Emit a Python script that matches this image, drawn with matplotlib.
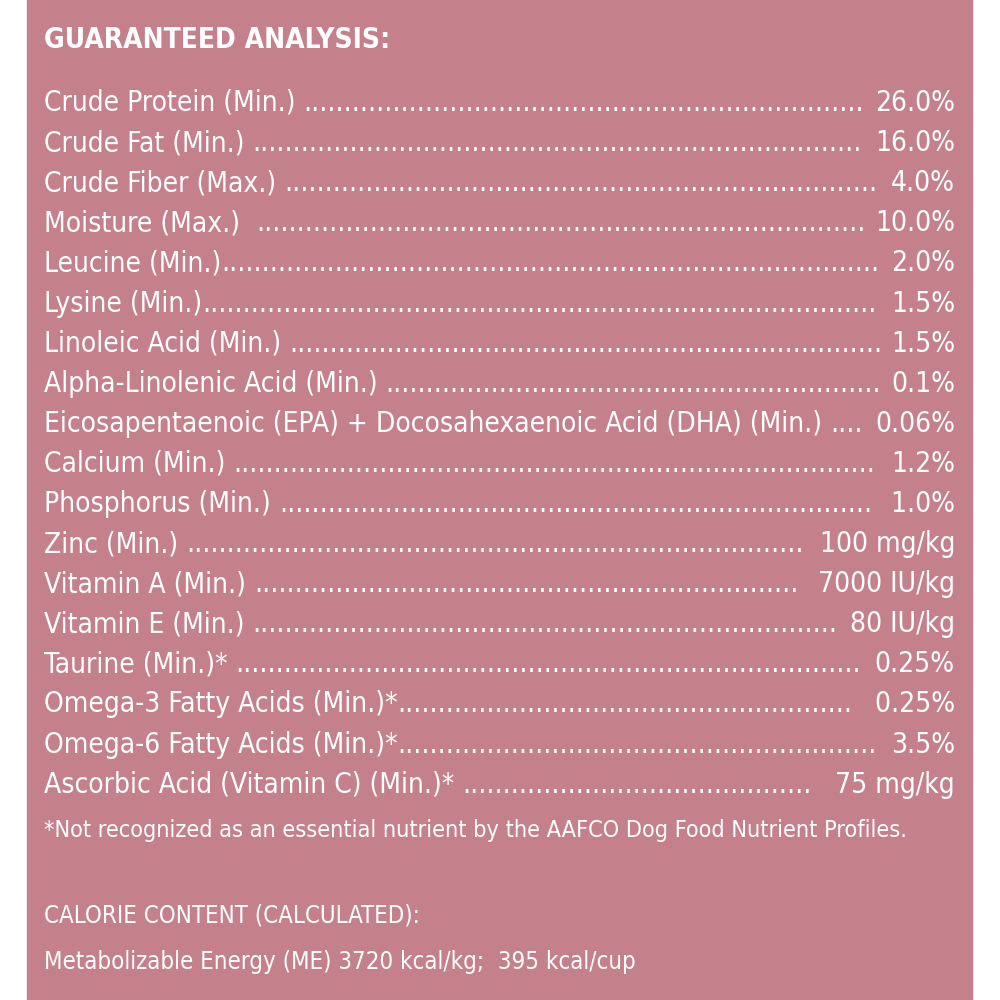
import matplotlib
matplotlib.use("Agg")
import matplotlib.pyplot as plt
from matplotlib.patches import Rectangle

labels = ["Crude Protein (Min.) ", "Crude Fat (Min.) ", "Crude Fiber (Max.) ", "Moisture (Max.)  ",
          "Leucine (Min.)", "Lysine (Min.)", "Linoleic Acid (Min.) ", "Alpha-Linolenic Acid (Min.) ",
          "Eicosapentaenoic (EPA) + Docosahexaenoic Acid (DHA) (Min.) ", "Calcium (Min.) ",
          "Phosphorus (Min.) ", "Zinc (Min.) ", "Vitamin A (Min.) ", "Vitamin E (Min.) ",
          "Taurine (Min.)* ", "Omega-3 Fatty Acids (Min.)*", "Omega-6 Fatty Acids (Min.)*",
          "Ascorbic Acid (Vitamin C) (Min.)* "]
values = ["26.0%", "16.0%", "4.0%", "10.0%", "2.0%", "1.5%", "1.5%", "0.1%", "0.06%", "1.2%",
          " 1.0%", "100 mg/kg", " 7000 IU/kg", "80 IU/kg", "0.25%", " 0.25%", "3.5%", " 75 mg/kg"]
title = "GUARANTEED ANALYSIS:"
footnote = "*Not recognized as an essential nutrient by the AAFCO Dog Food Nutrient Profiles."
cal_title = "CALORIE CONTENT (CALCULATED):"
cal_text = "Metabolizable Energy (ME) 3720 kcal/kg;  395 kcal/cup"

FONT = ["DejaVu Sans"]
STRETCH = "condensed"
W = 1000
fig = plt.figure(figsize=(10, 10), dpi=100)
ax = fig.add_axes([0, 0, 1, 1])
ax.set_xlim(0, W); ax.set_ylim(W, 0); ax.axis("off")
ax.add_patch(Rectangle((27, 0), 945, 1000, color="#C4818C"))
fig.canvas.draw()
r = fig.canvas.get_renderer()

def width(t):
    return t.get_window_extent(r).width

# choose font size so the longest row fits
probe = ax.text(0, -200, labels[8] + "... " + values[8], color="white", family=FONT,
                fontstretch=STRETCH, fontsize=23)
fs = min(23, 23 * 905 / width(probe))
probe.remove()
probe = ax.text(0, -200, footnote, color="white", family=FONT, fontstretch=STRETCH, fontsize=fs)
fs_foot = min(fs, fs * 865 / width(probe))
probe.remove()

kw = dict(color="white", family=FONT, fontstretch=STRETCH, fontsize=fs, va="center")
ax.text(44, 40, title, fontweight="bold", **kw)
dot = ax.text(0, -100, ".", **kw)
dw = width(dot)
y0, dy = 103, 40.1
xr = 955
for i, (lab, val) in enumerate(zip(labels, values)):
    y = y0 + i * dy
    tl = ax.text(44, y, lab, **kw)
    tv = ax.text(xr, y, val, ha="right", **kw)
    gap = (xr - width(tv)) - (44 + width(tl))
    n = int(gap / dw) - 1
    ax.text(44 + width(tl), y, "." * max(n, 0), **kw)
ax.text(44, 830, footnote, color="white", family=FONT, fontstretch=STRETCH, fontsize=fs_foot, va="center")
ax.text(44, 915, cal_title, fontsize=fs * 0.85, color="white", family=FONT, fontstretch=STRETCH, va="center")
ax.text(44, 962, cal_text, fontsize=fs * 0.85, color="white", family=FONT, fontstretch=STRETCH, va="center")
fig.savefig("out.png", dpi=100)
